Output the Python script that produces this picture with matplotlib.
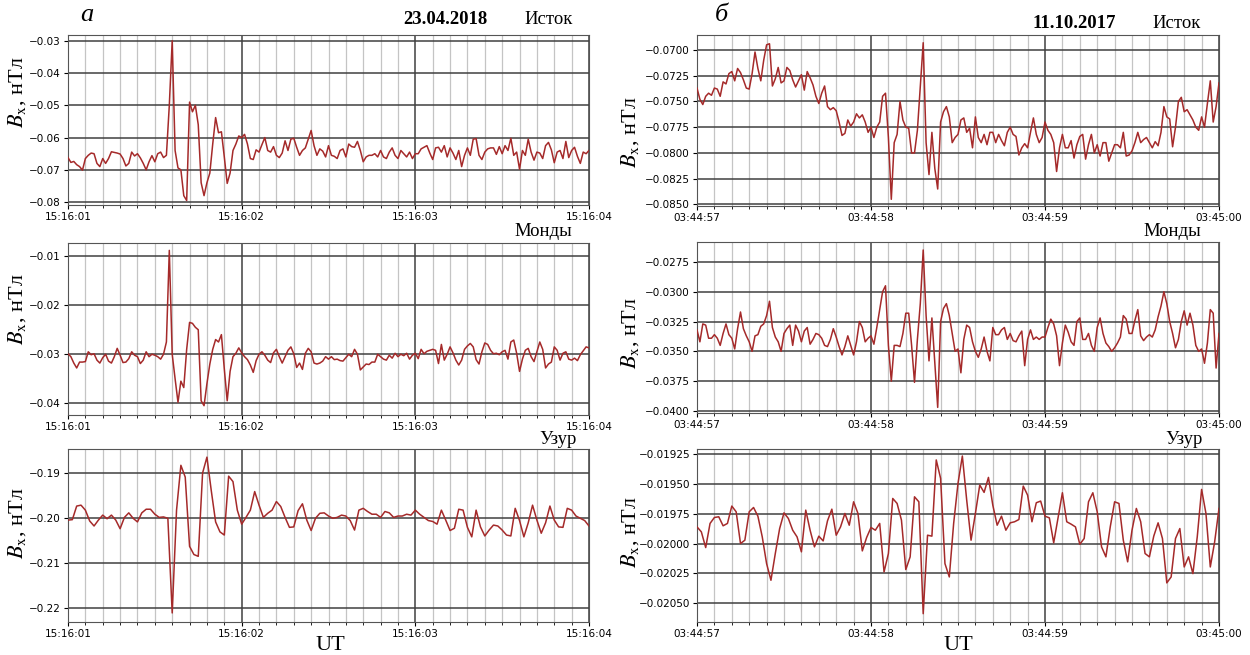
import numpy as np
import matplotlib
matplotlib.use("Agg")
import matplotlib.pyplot as plt
from matplotlib.ticker import MultipleLocator, ScalarFormatter

# time labels (UT)
times_a = ["15:16:01", "15:16:02", "15:16:03", "15:16:04"]
times_b = ["03:44:57", "03:44:58", "03:44:59", "03:45:00"]

# 23.04.2018, Bx (nT)
ist_a = [
    -0.0662, -0.0677, -0.0674, -0.0684, -0.0690, -0.0701, -0.0665, -0.0655, -0.0648, -0.0650,
    -0.0680, -0.0690, -0.0665, -0.0680, -0.0665, -0.0644, -0.0646, -0.0648, -0.0651, -0.0665,
    -0.0688, -0.0680, -0.0645, -0.0657, -0.0650, -0.0663, -0.0680, -0.0700, -0.0675, -0.0656,
    -0.0675, -0.0650, -0.0645, -0.0662, -0.0655, -0.0500, -0.0300, -0.0640, -0.0694, -0.0700,
    -0.0780, -0.0795, -0.0490, -0.0520, -0.0500, -0.0560, -0.0740, -0.0780, -0.0740, -0.0710,
    -0.0620, -0.0538, -0.0585, -0.0582, -0.0660, -0.0742, -0.0710, -0.0640, -0.0620, -0.0595,
    -0.0600,
    -0.0590, -0.0620, -0.0665, -0.0668, -0.0638, -0.0645, -0.0622, -0.0600, -0.0640, -0.0645,
    -0.0628, -0.0655, -0.0662, -0.0648, -0.0610, -0.0640, -0.0605, -0.0602, -0.0630, -0.0655,
    -0.0640, -0.0632, -0.0605, -0.0578, -0.0625, -0.0655, -0.0635, -0.0642, -0.0660, -0.0625,
    -0.0655, -0.0658, -0.0665, -0.0640, -0.0635, -0.0660, -0.0620, -0.0628, -0.0630, -0.0612,
    -0.0640, -0.0675, -0.0660, -0.0655, -0.0655, -0.0650, -0.0660, -0.0640, -0.0660, -0.0665,
    -0.0645, -0.0632, -0.0655, -0.0665, -0.0640, -0.0650, -0.0660, -0.0645, -0.0665, -0.0650,
    -0.0650, -0.0635, -0.0630, -0.0625, -0.0648, -0.0668, -0.0632, -0.0630, -0.0645, -0.0625,
    -0.0660, -0.0632, -0.0648, -0.0668, -0.0640, -0.0690, -0.0655, -0.0632, -0.0655, -0.0605,
    -0.0603, -0.0655, -0.0668, -0.0645, -0.0635, -0.0632, -0.0632, -0.0652, -0.0628, -0.0650,
    -0.0625, -0.0640, -0.0602, -0.0655, -0.0645, -0.0698, -0.0640, -0.0655, -0.0605, -0.0645,
    -0.0670, -0.0645, -0.0648, -0.0665, -0.0625, -0.0615, -0.0638, -0.0678, -0.0645, -0.0640,
    -0.0665, -0.0612, -0.0662, -0.0640, -0.0630, -0.0658, -0.0680, -0.0645, -0.0650, -0.0640,
]

mon_a = [
    -0.0299, -0.0305, -0.0318, -0.0328, -0.0316, -0.0316, -0.0315, -0.0295, -0.0301, -0.0299,
    -0.0312, -0.0318, -0.0307, -0.0300, -0.0314, -0.0318, -0.0305, -0.0288, -0.0302, -0.0317,
    -0.0316, -0.0309, -0.0295, -0.0302, -0.0305, -0.0319, -0.0312, -0.0295, -0.0305, -0.0300,
    -0.0302, -0.0305, -0.0310, -0.0300, -0.0275, -0.0088, -0.0300, -0.0350, -0.0398, -0.0355,
    -0.0368, -0.0290, -0.0235, -0.0237, -0.0245, -0.0250, -0.0395, -0.0405, -0.0360, -0.0320,
    -0.0290, -0.0270, -0.0275, -0.0260, -0.0330, -0.0395, -0.0335, -0.0305, -0.0298, -0.0287,
    -0.0297,
    -0.0305, -0.0311, -0.0322, -0.0337, -0.0313, -0.0300, -0.0295, -0.0302, -0.0312, -0.0317,
    -0.0297, -0.0290, -0.0305, -0.0318, -0.0305, -0.0292, -0.0285, -0.0299, -0.0327, -0.0318,
    -0.0331, -0.0298, -0.0288, -0.0295, -0.0318, -0.0320, -0.0318, -0.0314, -0.0305, -0.0310,
    -0.0305, -0.0311, -0.0310, -0.0313, -0.0314, -0.0307, -0.0300, -0.0305, -0.0290, -0.0300,
    -0.0332, -0.0326, -0.0320, -0.0321, -0.0316, -0.0316, -0.0300, -0.0305, -0.0310, -0.0312,
    -0.0302, -0.0308, -0.0298, -0.0305, -0.0300, -0.0303, -0.0298, -0.0310, -0.0302, -0.0298,
    -0.0309, -0.0290, -0.0299, -0.0294, -0.0292, -0.0290, -0.0292, -0.0319, -0.0280, -0.0312,
    -0.0300, -0.0285, -0.0297, -0.0312, -0.0322, -0.0312, -0.0290, -0.0283, -0.0278, -0.0285,
    -0.0311, -0.0320, -0.0295, -0.0277, -0.0280, -0.0292, -0.0299, -0.0298, -0.0301, -0.0295,
    -0.0292, -0.0310, -0.0275, -0.0271, -0.0298, -0.0335, -0.0310, -0.0292, -0.0288, -0.0305,
    -0.0315, -0.0295, -0.0275, -0.0290, -0.0328, -0.0320, -0.0316, -0.0285, -0.0292, -0.0312,
    -0.0298, -0.0295, -0.0310, -0.0312, -0.0308, -0.0313, -0.0301, -0.0293, -0.0285, -0.0287,
]

uzr_a = [
    -0.2005, -0.2004, -0.1974, -0.1972, -0.1983, -0.2007, -0.2018, -0.2005, -0.1994, -0.2002,
    -0.1994, -0.2005, -0.2024, -0.1999, -0.1989, -0.2001, -0.2009, -0.1989, -0.1981, -0.1981,
    -0.1992, -0.1999, -0.1998, -0.2001, -0.2210, -0.1983, -0.1884, -0.1910, -0.2063, -0.2081,
    -0.2085, -0.1901, -0.1866, -0.1940, -0.2009, -0.2031, -0.2038, -0.1908, -0.1920, -0.1983,
    -0.2014,
    -0.1999, -0.1983, -0.1942, -0.1972, -0.1999, -0.1990, -0.1983, -0.1964, -0.1975, -0.1999,
    -0.2021, -0.2020, -0.1984, -0.1969, -0.2005, -0.2028, -0.2001, -0.1990, -0.1989, -0.1996,
    -0.2001, -0.1999, -0.1994, -0.1996, -0.2006, -0.2027, -0.1983, -0.1979, -0.1986, -0.1992,
    -0.1992, -0.1999, -0.1986, -0.1989, -0.1999, -0.1996, -0.1996, -0.1992, -0.1994, -0.1983,
    -0.1992, -0.1999, -0.2006, -0.2008, -0.2014, -0.1983, -0.2005, -0.2028, -0.2023, -0.1981,
    -0.1983, -0.2021, -0.2042, -0.1983, -0.2020, -0.2040, -0.2027, -0.2016, -0.2018, -0.2027,
    -0.2038, -0.2040, -0.1979, -0.2006, -0.2042, -0.2011, -0.1972, -0.2005, -0.2034, -0.2011,
    -0.1974, -0.2005, -0.2020, -0.2021, -0.1979, -0.1983, -0.1996, -0.2001, -0.2006, -0.2018,
]

# 11.10.2017, Bx (nT)
ist_b = [
    -0.0737, -0.0748, -0.0753, -0.0745, -0.0742, -0.0744, -0.0737, -0.0738, -0.0745, -0.0731,
    -0.0733, -0.0723, -0.0721, -0.0730, -0.0718, -0.0722, -0.0729, -0.0737, -0.0738, -0.0723,
    -0.0702, -0.0718, -0.0730, -0.0710, -0.0695, -0.0694, -0.0735, -0.0728, -0.0717, -0.0732,
    -0.0730, -0.0717, -0.0720, -0.0729, -0.0736, -0.0730, -0.0724, -0.0739, -0.0721, -0.0727,
    -0.0734, -0.0745, -0.0752, -0.0742, -0.0735, -0.0755, -0.0758, -0.0756, -0.0759, -0.0770,
    -0.0783, -0.0781, -0.0768, -0.0774, -0.0770, -0.0762, -0.0766, -0.0763, -0.0770, -0.0780,
    -0.0775,
    -0.0785, -0.0775, -0.0770, -0.0745, -0.0742, -0.0785, -0.0845, -0.0790, -0.0782, -0.0750,
    -0.0768, -0.0775, -0.0776, -0.0800, -0.0800, -0.0778, -0.0735, -0.0693, -0.0790, -0.0821,
    -0.0780, -0.0815, -0.0835, -0.0770, -0.0760, -0.0755, -0.0765, -0.0790, -0.0785, -0.0782,
    -0.0768, -0.0766, -0.0780, -0.0776, -0.0795, -0.0765, -0.0785, -0.0790, -0.0782, -0.0792,
    -0.0780, -0.0780, -0.0790, -0.0782, -0.0788, -0.0793, -0.0780, -0.0775, -0.0782, -0.0784,
    -0.0802, -0.0795, -0.0791, -0.0795, -0.0780, -0.0766, -0.0782, -0.0790, -0.0785, -0.0770,
    -0.0778, -0.0782, -0.0790, -0.0818, -0.0795, -0.0782, -0.0795, -0.0795, -0.0788, -0.0805,
    -0.0792, -0.0784, -0.0782, -0.0806, -0.0792, -0.0782, -0.0800, -0.0792, -0.0803, -0.0790,
    -0.0790, -0.0808, -0.0800, -0.0792, -0.0792, -0.0795, -0.0780, -0.0803, -0.0802, -0.0798,
    -0.0790, -0.0780, -0.0790, -0.0787, -0.0785, -0.0790, -0.0795, -0.0789, -0.0793, -0.0780,
    -0.0755, -0.0765, -0.0767, -0.0794, -0.0775, -0.0750, -0.0746, -0.0760, -0.0758, -0.0763,
    -0.0768, -0.0775, -0.0778, -0.0765, -0.0775, -0.0752, -0.0730, -0.0770, -0.0755, -0.0732,
]

mon_b = [
    -0.0332, -0.0342, -0.0327, -0.0328, -0.0339, -0.0339, -0.0336, -0.0339, -0.0345, -0.0335,
    -0.0327, -0.0336, -0.0339, -0.0348, -0.0331, -0.0317, -0.0331, -0.0337, -0.0342, -0.0350,
    -0.0337, -0.0336, -0.0329, -0.0327, -0.0320, -0.0308, -0.0330, -0.0338, -0.0342, -0.0350,
    -0.0335, -0.0331, -0.0328, -0.0345, -0.0328, -0.0333, -0.0342, -0.0333, -0.0330, -0.0344,
    -0.0340, -0.0335, -0.0336, -0.0339, -0.0345, -0.0346, -0.0340, -0.0331, -0.0338, -0.0346,
    -0.0353, -0.0346, -0.0337, -0.0345, -0.0353, -0.0342, -0.0325, -0.0330, -0.0342, -0.0339,
    -0.0337,
    -0.0344, -0.0330, -0.0315, -0.0300, -0.0295, -0.0345, -0.0375, -0.0345, -0.0345, -0.0346,
    -0.0335, -0.0318, -0.0318, -0.0345, -0.0376, -0.0340, -0.0310, -0.0265, -0.0320, -0.0358,
    -0.0322, -0.0360, -0.0397, -0.0325, -0.0314, -0.0310, -0.0320, -0.0335, -0.0350, -0.0348,
    -0.0368, -0.0340, -0.0328, -0.0330, -0.0342, -0.0350, -0.0355, -0.0348, -0.0338, -0.0350,
    -0.0358, -0.0330, -0.0336, -0.0336, -0.0332, -0.0330, -0.0340, -0.0335, -0.0341, -0.0342,
    -0.0337, -0.0333, -0.0362, -0.0340, -0.0332, -0.0340, -0.0338, -0.0340, -0.0338, -0.0338,
    -0.0330, -0.0323, -0.0327, -0.0337, -0.0362, -0.0343, -0.0328, -0.0334, -0.0342, -0.0345,
    -0.0325, -0.0322, -0.0340, -0.0340, -0.0335, -0.0345, -0.0350, -0.0330, -0.0322, -0.0335,
    -0.0343, -0.0346, -0.0350, -0.0347, -0.0343, -0.0338, -0.0320, -0.0323, -0.0335, -0.0335,
    -0.0324, -0.0315, -0.0337, -0.0341, -0.0338, -0.0336, -0.0338, -0.0332, -0.0321, -0.0312,
    -0.0300, -0.0310, -0.0325, -0.0335, -0.0347, -0.0340, -0.0325, -0.0316, -0.0328, -0.0318,
    -0.0328, -0.0345, -0.0350, -0.0348, -0.0360, -0.0343, -0.0315, -0.0318, -0.0364, -0.0335,
]

uzr_b = [
    -0.019860, -0.019902, -0.020034, -0.019831, -0.019781, -0.019775, -0.019851, -0.019831,
    -0.019685, -0.019733, -0.020000, -0.019972, -0.019733, -0.019697, -0.019770, -0.019944,
    -0.020169, -0.020309, -0.020084, -0.019874, -0.019742, -0.019789, -0.019888, -0.019944,
    -0.020070, -0.019719, -0.019888, -0.020028, -0.019938, -0.019978, -0.019809, -0.019711,
    -0.019930, -0.019860, -0.019747, -0.019846, -0.019649, -0.019747, -0.020062, -0.019949,
    -0.019865,
    -0.019888, -0.019831, -0.020239, -0.020084, -0.019621, -0.019663, -0.019803, -0.020219,
    -0.020112, -0.019607, -0.019649, -0.020590, -0.019930, -0.019938, -0.019297, -0.019452,
    -0.020169, -0.020281, -0.019831, -0.019494, -0.019264, -0.019635, -0.019972, -0.019747,
    -0.019508, -0.019570, -0.019444, -0.019677, -0.019846, -0.019770, -0.019888, -0.019826,
    -0.019817, -0.019798, -0.019517, -0.019593, -0.019817, -0.019657, -0.019643, -0.019770,
    -0.019784, -0.019994, -0.019784, -0.019573, -0.019817, -0.019837, -0.019860, -0.020006,
    -0.019958, -0.019649, -0.019573, -0.019733, -0.020028, -0.020112, -0.019860, -0.019649,
    -0.019663, -0.019972, -0.020154, -0.019888, -0.019705, -0.019817, -0.020084, -0.020112,
    -0.019938, -0.019826, -0.019958, -0.020331, -0.020281, -0.019958, -0.019874, -0.020197,
    -0.020112, -0.020253, -0.019944, -0.019545, -0.019747, -0.020197, -0.019986, -0.019705,
]

W, H = 1250, 655
fig = plt.figure(figsize=(W / 100, H / 100), dpi=100)
plt.rcParams["mathtext.fontset"] = "stix"

line_col = "#a52a2a"
serif = "Liberation Serif"


def px(x, y):
    return x / W, 1 - y / H


# panel boxes in pixels: left, top, right, bottom
boxes = {
    (0, 0): (68, 35, 589, 205), (0, 1): (697, 35, 1219, 206),
    (1, 0): (68, 243, 589, 415), (1, 1): (697, 242, 1219, 413),
    (2, 0): (68, 449, 589, 622), (2, 1): (697, 449, 1219, 622),
}

panels = [
    (0, 0, ist_a, times_a, 0.01, (-0.0809, -0.0282)),
    (1, 0, mon_a, times_a, 0.01, (-0.0424, -0.0073)),
    (2, 0, uzr_a, times_a, 0.01, (-0.2230, -0.1848)),
    (0, 1, ist_b, times_b, 0.0025, (-0.08515, -0.06855)),
    (1, 1, mon_b, times_b, 0.0025, (-0.04017, -0.02583)),
    (2, 1, uzr_b, times_b, 0.00025, (-0.02066, -0.019205)),
]

ylab_y = {(0, 0): 92, (1, 0): 309, (2, 0): 523, (0, 1): 132, (1, 1): 333, (2, 1): 532}

for r, c, vals, labels, ystep, ylim in panels:
    l, t, rr, b = boxes[(r, c)]
    ax = fig.add_axes([l / W, 1 - b / H, (rr - l) / W, (b - t) / H])
    tt = np.linspace(0, 3, len(vals))
    ax.plot(tt, vals, color=line_col, lw=1.1, zorder=3)
    ax.set_xlim(0, 3)
    ax.set_ylim(*ylim)
    ax.set_xticks([0, 1, 2, 3])
    ax.set_xticklabels(labels)
    ax.xaxis.set_minor_locator(MultipleLocator(0.1))
    ax.yaxis.set_major_locator(MultipleLocator(ystep))
    fmt = ScalarFormatter(useOffset=False)
    ax.yaxis.set_major_formatter(fmt)
    ax.grid(which="minor", axis="x", color="#c4c4c4", lw=0.9)
    ax.grid(which="major", color="#404040", lw=1.1)
    ax.tick_params(labelsize=7.5, length=3, pad=2)
    ax.tick_params(which="minor", length=2)
    for s in ax.spines.values():
        s.set_color("#555555")
    xl = 17 if c == 0 else 630
    fig.text(xl / W, 1 - ylab_y[(r, c)] / H, r"$B_{\mathrm{x}}$, нТл", rotation=90,
             ha="center", va="center", fontsize=16, family=serif)

# headers
fig.text(*px(87, 15), "а", fontsize=19, family=serif, style="italic", ha="center", va="center")
fig.text(*px(721, 15), "б", fontsize=19, family=serif, style="italic", ha="center", va="center")
fig.text(*px(445, 19), "23.04.2018", fontsize=13.5, family=serif, weight="bold", ha="center", va="center")
fig.text(*px(1074, 23), "11.10.2017", fontsize=13.5, family=serif, weight="bold", ha="center", va="center")
fig.text(*px(549, 20), "Исток", fontsize=13.5, family=serif, ha="center", va="center")
fig.text(*px(1177, 24), "Исток", fontsize=13.5, family=serif, ha="center", va="center")
fig.text(*px(543, 231), "Монды", fontsize=13.5, family=serif, ha="center", va="center")
fig.text(*px(1172, 231), "Монды", fontsize=13.5, family=serif, ha="center", va="center")
fig.text(*px(558, 440), "Узур", fontsize=13.5, family=serif, ha="center", va="center")
fig.text(*px(1184, 440), "Узур", fontsize=13.5, family=serif, ha="center", va="center")
fig.text(*px(330, 645), "UT", fontsize=16, family=serif, ha="center", va="center")
fig.text(*px(958, 645), "UT", fontsize=16, family=serif, ha="center", va="center")

fig.savefig("out.png", dpi=100)
